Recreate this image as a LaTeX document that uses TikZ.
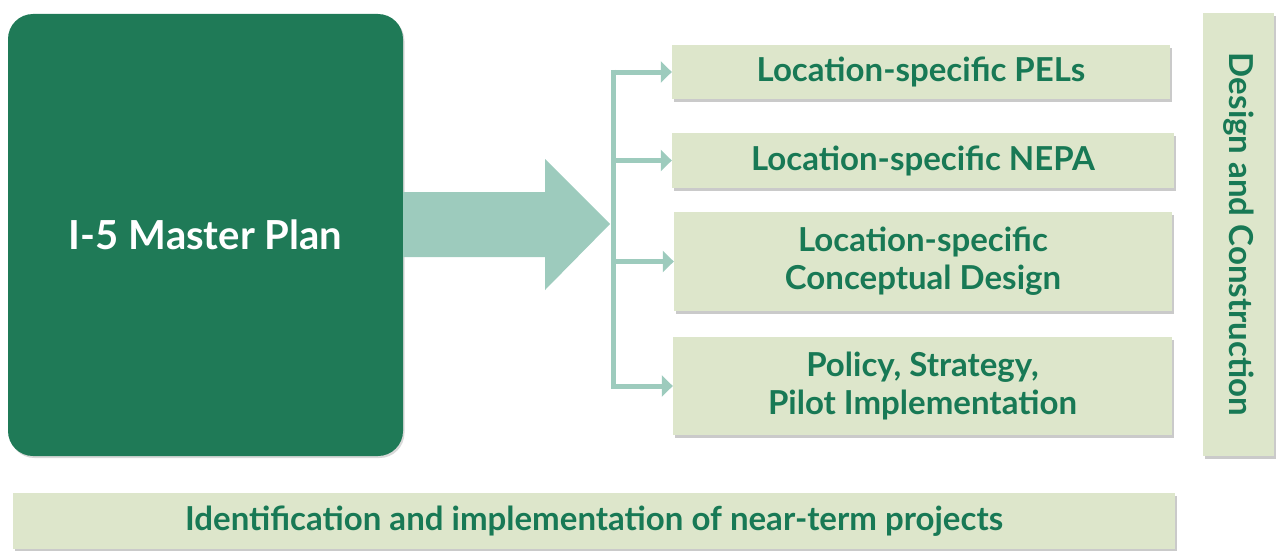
\documentclass[tikz,border=0pt]{standalone}
\usepackage{fontspec}
\setmainfont{Lato}
\usetikzlibrary{arrows.meta,shadows}
\definecolor{darkgr}{HTML}{1F7A57}
\definecolor{txtgr}{HTML}{187955}
\definecolor{lightbox}{HTML}{DDE6CB}
\definecolor{arrgr}{HTML}{9DCBBD}
\tikzset{
  lbox/.style={fill=lightbox, draw=none, inner sep=0pt, align=center,
    text=txtgr, font=\bfseries\fontsize{33}{38}\selectfont,
    drop shadow={shadow xshift=2pt, shadow yshift=-3pt, opacity=0.35, fill=black!60}},
  branch/.style={draw=arrgr, line width=5pt, -{Triangle[width=21pt,length=11pt]}},
  spine/.style={draw=arrgr, line width=5pt},
}
\begin{document}
\begin{tikzpicture}[x=1pt,y=-1pt]
\useasboundingbox (0,0) rectangle (1276,551);
\node[fill=darkgr, rounded corners=25pt, minimum width=395pt, minimum height=442pt,
  inner sep=0pt, text=white, font=\bfseries\fontsize{40}{46}\selectfont,
  drop shadow={shadow xshift=1.5pt, shadow yshift=-2pt, opacity=0.25, fill=black!60}]
  (master) at (205.5,235) {I-5 Master Plan};
\node[lbox, minimum width=498pt, minimum height=54pt] (b1) at (921,72) {Location-specific PELs};
\node[lbox, minimum width=502pt, minimum height=55pt] (b2) at (923,160.5) {Location-specific NEPA};
\node[lbox, minimum width=498pt, minimum height=99pt] (b3) at (923,261.5) {Location-specific\\Conceptual Design};
\node[lbox, minimum width=499pt, minimum height=98pt] (b4) at (922.5,386) {Policy, Strategy,\\Pilot Implementation};
\node[lbox, minimum width=71pt, minimum height=443pt] (dc) at (1238.5,234.5) {};
\node[text=txtgr, font=\bfseries\fontsize{33}{38}\selectfont, rotate=-90, inner sep=0pt] (dct) at (dc.center) {Design and Construction};
\node[lbox, minimum width=1162pt, minimum height=56pt] (nt) at (594,521) {Identification and implementation of near-term projects};
% big arrow
\fill[arrgr] (master.east |- 0,192) -- (545,192) -- (545,159) -- (610,224) -- (545,290) -- (545,257) -- (master.east |- 0,257) -- cycle;
\coordinate (bus) at (613,0);
\draw[spine] ([yshift=2.5pt]b1.west -| bus) -- ([yshift=-2.5pt]b4.west -| bus);
\foreach \b in {b1,b2,b3,b4}{
  \draw[branch] (\b.west -| bus) -- (\b.west);
}
\end{tikzpicture}
\end{document}
